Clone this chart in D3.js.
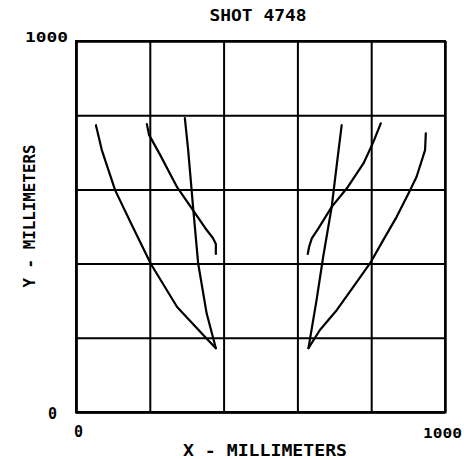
<!DOCTYPE html>
<html>
<head>
<meta charset="utf-8">
<script src="https://cdn.jsdelivr.net/npm/d3@7"></script>
<style>
html,body{margin:0;padding:0;background:#fff;}
svg{display:block;}
text{font-family:"DejaVu Sans Mono",monospace;font-weight:bold;fill:#000;}
</style>
</head>
<body>
<svg id="chart" width="464" height="459"></svg>
<script>
const title = "SHOT 4748";
const xLabel = "X - MILLIMETERS";
const yLabel = "Y - MILLIMETERS";
const gridTicks = [0, 200, 400, 600, 800, 1000];
const tickLabels = ["0", "1000"];

// traces (x mm, y mm)
const leftOuter = [[54,773],[70,706],[106,598],[149,509],[203,399],[274,283],[355,197],[379,172]];
const leftMiddle = [[192,776],[198,747],[228,693],[274,606],[317,544],[350,496],[371,469],[379,453],[379,426]];
const leftInner = [[295,792],[304,706],[318,544],[331,401],[354,266],[379,172]];
const rightInner = [[720,773],[706,661],[693,553],[670,419],[652,302],[630,172]];
const rightMiddle = [[826,778],[806,728],[779,670],[734,603],[693,553],[657,495],[639,468],[632,446],[628,426]];
const rightOuter = [[948,751],[946,706],[923,634],[901,589],[869,526],[833,464],[797,401],[752,338],[707,275],[661,221],[630,172]];
const traces = [leftOuter, leftMiddle, leftInner, rightInner, rightMiddle, rightOuter];

const svg = d3.select("#chart");
const x = d3.scaleLinear().domain([0, 1000]).range([76, 445]);
const y = d3.scaleLinear().domain([0, 1000]).range([412, 41]);

// grid via axes
const gx = svg.append("g").attr("transform", `translate(0,${y(0)})`)
  .call(d3.axisBottom(x).tickValues(gridTicks).tickSize(-(y(0) - y(1000))).tickFormat(""));
const gy = svg.append("g").attr("transform", `translate(${x(0)},0)`)
  .call(d3.axisLeft(y).tickValues(gridTicks).tickSize(-(x(1000) - x(0))).tickFormat(""));
[gx, gy].forEach(g => {
  g.select(".domain").attr("stroke", "#000").attr("stroke-width", 2);
  g.selectAll(".tick line").attr("stroke", "#000").attr("stroke-width", 2);
});
svg.append("rect").attr("x", x(0)).attr("y", y(1000))
  .attr("width", x(1000) - x(0)).attr("height", y(0) - y(1000))
  .attr("fill", "none").attr("stroke", "#000").attr("stroke-width", 2);

const line = d3.line().x(d => x(d[0])).y(d => y(d[1]));
svg.append("g").selectAll("path").data(traces).join("path")
  .attr("d", line).attr("fill", "none").attr("stroke", "#000")
  .attr("stroke-width", 2.2).attr("stroke-linejoin", "round").attr("stroke-linecap", "round");

// texts
svg.append("text").attr("x", 258).attr("y", 21).attr("text-anchor", "middle")
  .attr("font-size", 16).attr("textLength", 97).attr("lengthAdjust", "spacingAndGlyphs").text(title);
svg.append("text").attr("x", 265).attr("y", 456).attr("text-anchor", "middle")
  .attr("font-size", 16).attr("textLength", 164).attr("lengthAdjust", "spacingAndGlyphs").text(xLabel);
svg.append("text").attr("transform", `translate(35,216) rotate(-90)`).attr("text-anchor", "middle")
  .attr("font-size", 15).attr("textLength", 143).attr("lengthAdjust", "spacingAndGlyphs").text(yLabel);

// tick labels
svg.append("text").attr("x", 68).attr("y", y(1000) + 1).attr("text-anchor", "end")
  .attr("font-size", 14).attr("textLength", 43).attr("lengthAdjust", "spacingAndGlyphs").text(tickLabels[1]);
svg.append("text").attr("x", 57).attr("y", y(0) + 7).attr("text-anchor", "end")
  .attr("font-size", 15).text(tickLabels[0]);
svg.append("text").attr("x", x(0) - 2).attr("y", 437).attr("text-anchor", "start")
  .attr("font-size", 15).text(tickLabels[0]);
svg.append("text").attr("x", 462).attr("y", 438).attr("text-anchor", "end")
  .attr("font-size", 14).attr("textLength", 39).attr("lengthAdjust", "spacingAndGlyphs").text(tickLabels[1]);
</script>
</body>
</html>
